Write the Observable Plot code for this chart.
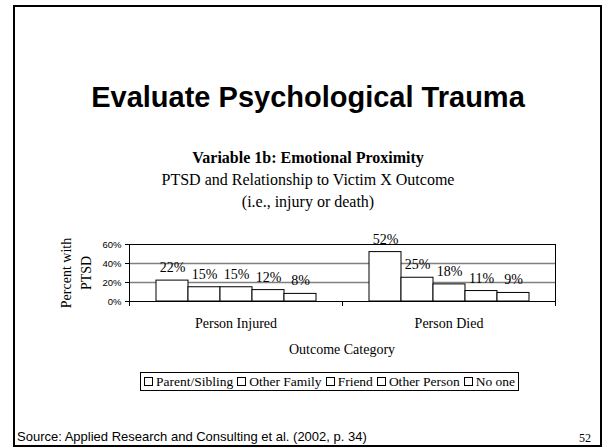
<!DOCTYPE html>
<html>
<head>
<meta charset="utf-8">
<script src="https://cdn.jsdelivr.net/npm/d3@7"></script>
<script src="https://cdn.jsdelivr.net/npm/@observablehq/plot@0.6"></script>
<style>
  html, body { margin: 0; padding: 0; background: #fff; }
  #page { position: relative; width: 602px; height: 447px; overflow: hidden; background: #fff; }
  #slide { position: absolute; left: 13px; top: 5px; width: 585px; height: 438px; border: 2px solid #000; border-right-width: 3px; border-bottom-width: 3px; }
  .t { position: absolute; white-space: nowrap; color: #000; }
  .serif { font-family: "Liberation Serif", "Times New Roman", serif; }
  .sans { font-family: "Liberation Sans", Arial, sans-serif; }
  #chart { position: absolute; left: 0; top: 230px; }
  #legend { position: absolute; top: 372px; left: 140px; height: 19px; border: 1px solid #000; display: flex; align-items: center; padding: 0 3px; box-sizing: border-box; font-family: "Liberation Serif", serif; font-size: 13.5px; }
  #legend .item { display: flex; align-items: center; margin-right: 4px; }
  #legend .item:last-child { margin-right: 0; }
  #legend .sw { width: 7px; height: 7px; border: 1px solid #000; background: #fff; margin-right: 3px; }
</style>
</head>
<body>
<div id="page">
  <div id="slide"></div>
  <div id="chart"></div>
  <div class="t sans" style="left:13px;width:590px;text-align:center;top:83px;font-size:29px;line-height:29px;font-weight:bold;">Evaluate Psychological Trauma</div>
  <div class="t serif" style="left:13px;width:590px;text-align:center;top:147px;font-size:16px;line-height:22px;">
    <b>Variable 1b: Emotional Proximity</b><br>PTSD and Relationship to Victim X Outcome<br>(i.e., injury or death)
  </div>
  <div class="t serif" style="left:142px;width:400px;text-align:center;top:343.3px;font-size:14px;line-height:14px;">Outcome Category</div>
  <div id="legend"></div>
  <div class="t sans" style="left:17px;top:430px;font-size:13px;line-height:13px;">Source: Applied Research and Consulting et al. (2002, p. 34)</div>
  <div class="t serif" style="left:579px;top:432px;font-size:12px;line-height:12px;">52</div>
</div>
<script>
const outcomes = ["Person Injured", "Person Died"];
const relationships = ["Parent/Sibling", "Other Family", "Friend", "Other Person", "No one"];
const injuredValues = [22, 15, 15, 12, 8];
const diedValues = [52, 25, 18, 11, 9];
const yTicks = [0, 20, 40, 60];
const yLabel = "Percent with\nPTSD";

const seriesByOutcome = [injuredValues, diedValues];
const data = [];
outcomes.forEach((o, i) => relationships.forEach((r, j) => data.push({outcome: o, relation: r, value: seriesByOutcome[i][j]})));

const chart = Plot.plot({
  width: 602,
  height: 116,
  marginLeft: 129,
  marginRight: 47,
  marginTop: 14,
  marginBottom: 45,
  style: {background: "none", fontFamily: "Liberation Serif, serif", fontSize: "14px", color: "#000"},
  fx: {domain: outcomes, paddingInner: 0, paddingOuter: 0},
  x: {domain: relationships, paddingInner: 0, paddingOuter: 0.73, axis: null},
  y: {domain: [0, 60], axis: null},
  marks: [
    Plot.ruleY([20, 40], {stroke: "#808080", strokeWidth: 1.5}),
    Plot.ruleY([60], {stroke: "#000", strokeWidth: 1}),
    Plot.barY(data, {fx: "outcome", x: "relation", y: "value", fill: "white", stroke: "black", strokeWidth: 1}),
    Plot.ruleY([0], {stroke: "#000", strokeWidth: 1}),
    Plot.frame({anchor: "left", facetAnchor: "left", stroke: "#000"}),
    Plot.frame({anchor: "right", facetAnchor: "right", stroke: "#000"}),
    Plot.frame({anchor: "left", insetTop: 57, insetBottom: -4, stroke: "#000"}),
    Plot.frame({anchor: "right", facetAnchor: "right", insetTop: 57, insetBottom: -4, stroke: "#000"}),
    Plot.axisY({ticks: yTicks, tickSize: 4, tickPadding: 4, tickFormat: d => d + "%", fontFamily: "Liberation Sans, Arial, sans-serif", fontSize: 9.5, label: null, stroke: "#000"}),
    Plot.axisFx({anchor: "bottom", tickSize: 0, tickPadding: 17, label: null, fontSize: 14}),
    Plot.text(data, {fx: "outcome", x: "relation", y: "value", text: d => d.value + "%", dy: -13, fontSize: 14}),
    Plot.text([yLabel], {text: d => d, frameAnchor: "left", facetAnchor: "left", textAnchor: "middle", lineAnchor: "middle", rotate: -90, dx: -55, lineHeight: 1.4, fontSize: 14})
  ]
});
document.getElementById("chart").appendChild(chart);

const legend = document.getElementById("legend");
relationships.forEach(r => {
  const item = document.createElement("div");
  item.className = "item";
  const sw = document.createElement("span");
  sw.className = "sw";
  const lab = document.createElement("span");
  lab.textContent = r;
  item.appendChild(sw);
  item.appendChild(lab);
  legend.appendChild(item);
});
</script>
</body>
</html>
